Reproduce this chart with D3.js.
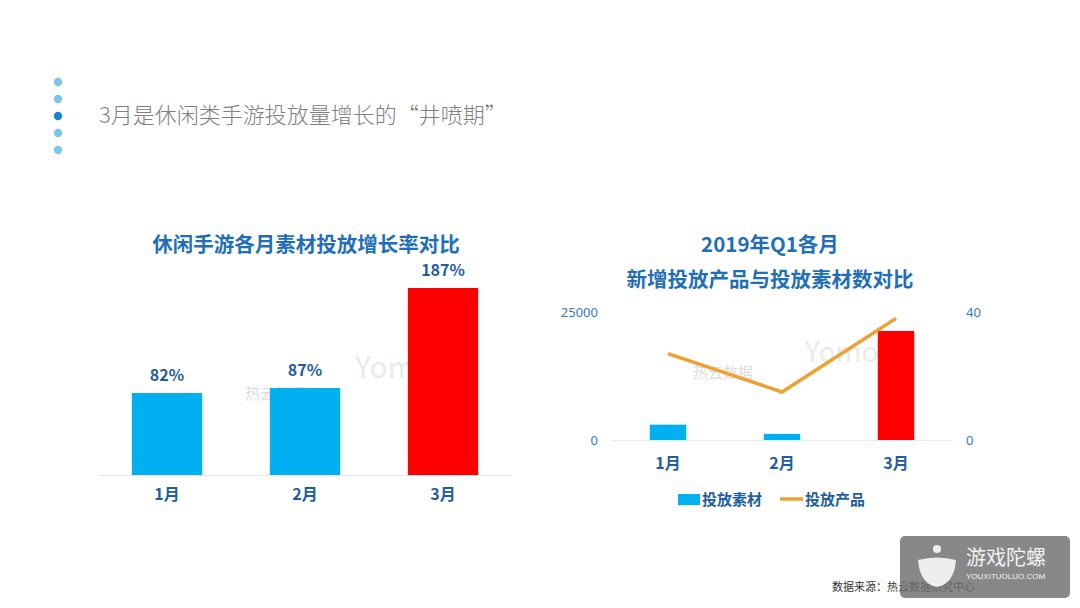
<!DOCTYPE html>
<html><head><meta charset="utf-8">
<script src="https://cdn.jsdelivr.net/npm/d3@7"></script>
<style>body{margin:0;background:#fff;}svg{display:block;font-family:"Noto Sans CJK SC","Noto Sans",sans-serif;}</style>
</head><body>
<script>
const months = ["1月","2月","3月"];
const growthRate = [82, 87, 187];
const growthLabels = ["82%","87%","187%"];
const materials = [3000, 1200, 21300];
const products = [27, 15, 38];
const leftTicks = [0, 25000];
const rightTicks = [0, 40];
const barColors = ["#00B0F0","#00B0F0","#FF0000"];

const W=1080,H=608;
const svg=d3.select("body").append("svg").attr("width",W).attr("height",H);
svg.append("rect").attr("width",W).attr("height",H).attr("fill","#fff");

// header dots
const dotY=[82,99,116,133,150];
svg.selectAll("circle.dot").data(dotY).enter().append("circle")
  .attr("cx",58).attr("cy",d=>d).attr("r",4.2)
  .attr("fill",(d,i)=>i===2?"#1A86CF":"#7CC6EA");
svg.append("text").attr("x",99).attr("y",123).attr("fill","#808080")
  .attr("font-size",22).attr("font-weight",300).text("3月是休闲类手游投放量增长的“井喷期”");

const titleColor="#1F6FB8";
// ---------- Left chart ----------
const xL=d3.scaleBand().domain(months).range([98,512]).paddingInner(0.49).paddingOuter(0.245);
const yL=d3.scaleLinear().domain([0,200]).range([475,275]);
svg.append("text").attr("x",306).attr("y",252).attr("text-anchor","middle")
  .attr("fill",titleColor).attr("font-size",20.5).attr("font-weight","bold").text("休闲手游各月素材投放增长率对比");
// watermarks
svg.append("text").attr("x",245).attr("y",399).attr("fill","#c8c8c8").attr("font-size",15).attr("opacity",0.6).text("热云数据");
svg.append("text").attr("x",355).attr("y",378).attr("fill","#cfdccf").attr("font-size",30).attr("opacity",0.5).text("Yomob");
svg.append("line").attr("x1",98).attr("x2",512).attr("y1",475.5).attr("y2",475.5).attr("stroke","#E6E6E6").attr("stroke-width",1);
svg.selectAll("rect.lb").data(growthRate).enter().append("rect")
  .attr("x",(d,i)=>xL(months[i])).attr("width",xL.bandwidth())
  .attr("y",d=>yL(d)).attr("height",d=>yL(0)-yL(d)).attr("fill",(d,i)=>barColors[i]);
svg.selectAll("text.lv").data(growthRate).enter().append("text")
  .attr("x",(d,i)=>xL(months[i])+xL.bandwidth()/2).attr("y",d=>yL(d)-12)
  .attr("text-anchor","middle").attr("fill","#1F5E9E").attr("font-size",16).attr("font-weight","bold")
  .text((d,i)=>growthLabels[i]);
const axL=svg.append("g").attr("transform","translate(0,475)")
  .call(d3.axisBottom(xL).tickSize(0).tickPadding(14));
axL.select(".domain").remove();
axL.selectAll("text").attr("fill","#1F5E9E").attr("font-size",16).attr("font-weight","bold")
  .attr("font-family","'Noto Sans CJK SC',sans-serif");

// ---------- Right chart ----------
const xR=d3.scaleBand().domain(months).range([611,953]).paddingInner(0.68).paddingOuter(0.34);
const yR1=d3.scaleLinear().domain([0,25000]).range([440,312]);
const yR2=d3.scaleLinear().domain([0,40]).range([440,312]);
svg.append("text").attr("x",770).attr("y",252).attr("text-anchor","middle")
  .attr("fill",titleColor).attr("font-size",20.5).attr("font-weight","bold").text("2019年Q1各月");
svg.append("text").attr("x",770).attr("y",287).attr("text-anchor","middle")
  .attr("fill",titleColor).attr("font-size",20.5).attr("font-weight","bold").text("新增投放产品与投放素材数对比");
svg.append("text").attr("x",693).attr("y",378).attr("fill","#c8c8c8").attr("font-size",15).attr("opacity",0.6).text("热云数据");
svg.append("text").attr("x",805).attr("y",362).attr("fill","#cfdccf").attr("font-size",28).attr("opacity",0.5).text("Yomob");
svg.append("line").attr("x1",611).attr("x2",953).attr("y1",440.5).attr("y2",440.5).attr("stroke","#E6EEF4");
const axY1=svg.append("g").attr("transform","translate(598,0)")
  .call(d3.axisLeft(yR1).tickValues(leftTicks).tickSize(0).tickPadding(0).tickFormat(d3.format("d")));
axY1.select(".domain").remove();
axY1.selectAll("text").attr("fill","#3A78B8").attr("font-size",13).attr("font-family","'Noto Sans',sans-serif");
const axY2=svg.append("g").attr("transform","translate(966,0)")
  .call(d3.axisRight(yR2).tickValues(rightTicks).tickSize(0).tickPadding(0));
axY2.select(".domain").remove();
axY2.selectAll("text").attr("fill","#3A78B8").attr("font-size",13).attr("font-family","'Noto Sans',sans-serif");
svg.selectAll("rect.rb").data(materials).enter().append("rect")
  .attr("x",(d,i)=>xR(months[i])).attr("width",xR.bandwidth())
  .attr("y",d=>yR1(d)).attr("height",d=>yR1(0)-yR1(d)).attr("fill",(d,i)=>barColors[i]);
const line=d3.line().x((d,i)=>xR(months[i])+xR.bandwidth()/2).y(d=>yR2(d));
svg.append("path").datum(products).attr("d",line).attr("fill","none")
  .attr("stroke","#F0A030").attr("stroke-width",3.5).attr("stroke-linejoin","round");
const axR=svg.append("g").attr("transform","translate(0,440)")
  .call(d3.axisBottom(xR).tickSize(0).tickPadding(18));
axR.select(".domain").remove();
axR.selectAll("text").attr("fill","#1F5E9E").attr("font-size",16).attr("font-weight","bold")
  .attr("font-family","'Noto Sans CJK SC',sans-serif");
// legend
svg.append("rect").attr("x",678).attr("y",494).attr("width",22).attr("height",11).attr("fill","#00B0F0");
svg.append("text").attr("x",702).attr("y",505).attr("fill","#1F5E9E").attr("font-size",15).attr("font-weight","bold").text("投放素材");
svg.append("line").attr("x1",780).attr("x2",803).attr("y1",499).attr("y2",499).attr("stroke","#F0A030").attr("stroke-width",3.5);
svg.append("text").attr("x",805).attr("y",505).attr("fill","#1F5E9E").attr("font-size",15).attr("font-weight","bold").text("投放产品");

// source
svg.append("text").attr("x",832).attr("y",591).attr("fill","#333").attr("font-size",11).text("数据来源：热云数据研究中心");
// watermark box
const wm=svg.append("g");
wm.append("rect").attr("x",900).attr("y",536).attr("width",170).attr("height",62).attr("rx",5).attr("fill","#6E6E6E").attr("opacity",0.82);
wm.append("path").attr("d","M918,560 Q937,555 956,560 Q954,584 937,587 Q920,584 918,560 Z").attr("fill","#eee");
wm.append("circle").attr("cx",937).attr("cy",549).attr("r",4).attr("fill","#eee");
wm.append("text").attr("x",966).attr("y",565).attr("fill","#f2f2f2").attr("font-size",20).text("游戏陀螺");
wm.append("text").attr("x",966).attr("y",579).attr("fill","#f2f2f2").attr("font-size",8).attr("font-family","'Liberation Sans',sans-serif").text("YOUXITUOLUO.COM");
</script>
</body></html>
